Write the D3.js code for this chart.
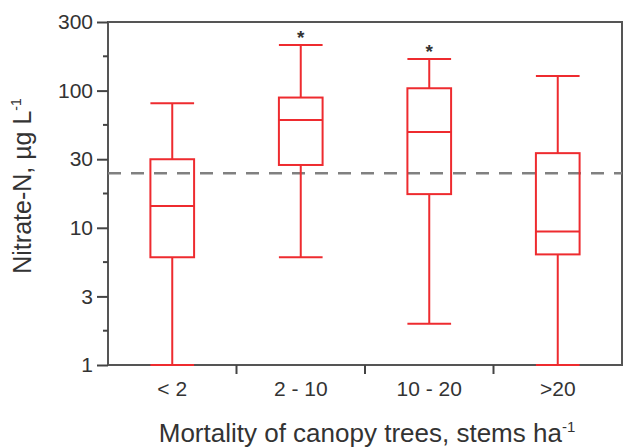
<!DOCTYPE html>
<html>
<head>
<script src="https://d3js.org/d3.v7.min.js"></script>
<style>
body { margin: 0; background: #fff; }
text { font-family: "Liberation Sans", Arial, sans-serif; fill: #333; }
.box { fill: none; stroke: #ee2b2f; stroke-width: 2; }
</style>
</head>
<body>
<div id="chart"></div>
<script>
// values (log axis)
var categories = ["< 2", "2 - 10", "10 - 20", ">20"];
var whiskerLow = [1, 6.1, 2.0, 1];
var q1 = [6.1, 28.7, 17.6, 6.4];
var median = [14.4, 61, 50, 9.4];
var q3 = [31.6, 89, 104, 35];
var whiskerHigh = [81, 215, 170, 128];
var starred = [false, true, true, false];
var threshold = 25;

var tickValues = [1, Math.sqrt(10), 10, 10 * Math.sqrt(10), 100, 100 * Math.sqrt(10)];
var tickLabels = ["1", "3", "10", "30", "100", "300"];

var W = 623, H = 447;
var m = {left: 108, right: 622, top: 22, bottom: 365};

var svg = d3.select("#chart").append("svg")
  .attr("width", W).attr("height", H);

var y = d3.scaleLog()
  .domain([1, 100 * Math.sqrt(10)])
  .range([m.bottom, m.top]);

var x = d3.scaleBand()
  .domain(categories)
  .range([m.left, m.right]);

var bw = x.bandwidth() * 0.34;

// frame
svg.append("rect")
  .attr("x", m.left).attr("y", m.top)
  .attr("width", m.right - m.left).attr("height", m.bottom - m.top)
  .attr("fill", "none").attr("stroke", "#555").attr("stroke-width", 2);

// y axis, major ticks
var yAxis = d3.axisLeft(y)
  .tickValues(tickValues)
  .tickSize(11)
  .tickPadding(4)
  .tickFormat(function(d, i) { return tickLabels[i]; });

var gy = svg.append("g")
  .attr("transform", "translate(" + m.left + ",0)")
  .call(yAxis);
gy.select(".domain").remove();
gy.selectAll("line").attr("stroke", "#444").attr("stroke-width", 2);
gy.selectAll("text").style("font-size", "21px").attr("fill", "#333");

// minor ticks at quarter decades
var minor = [0.25, 0.75, 1.25, 1.75, 2.25].map(function(e) { return Math.pow(10, e); });
svg.selectAll(".minor")
  .data(minor)
  .enter().append("line")
  .attr("x1", m.left - 5).attr("x2", m.left)
  .attr("y1", function(d) { return y(d); })
  .attr("y2", function(d) { return y(d); })
  .attr("stroke", "#444").attr("stroke-width", 2);

// x axis
var gx = svg.append("g")
  .attr("transform", "translate(0," + m.bottom + ")")
  .call(d3.axisBottom(x).tickSize(0).tickPadding(16));
gx.select(".domain").remove();
gx.selectAll("text").style("font-size", "21px").attr("fill", "#333");

// ticks between categories
svg.selectAll(".xsep")
  .data(categories.slice(1))
  .enter().append("line")
  .attr("x1", function(d) { return x(d); })
  .attr("x2", function(d) { return x(d); })
  .attr("y1", m.bottom).attr("y2", m.bottom + 9)
  .attr("stroke", "#444").attr("stroke-width", 2);

// threshold line
svg.append("line")
  .attr("x1", m.left).attr("x2", m.right)
  .attr("y1", y(threshold)).attr("y2", y(threshold))
  .attr("stroke", "#808080").attr("stroke-width", 2.5)
  .attr("stroke-dasharray", "13,10");

// boxes
var g = svg.selectAll(".bx")
  .data(categories)
  .enter().append("g")
  .attr("class", "box");

function cx(i) { return x(categories[i]) + x.bandwidth() / 2; }

g.append("line")
  .attr("x1", function(d, i) { return cx(i); })
  .attr("x2", function(d, i) { return cx(i); })
  .attr("y1", function(d, i) { return y(whiskerHigh[i]); })
  .attr("y2", function(d, i) { return y(q3[i]); });
g.append("line")
  .attr("x1", function(d, i) { return cx(i); })
  .attr("x2", function(d, i) { return cx(i); })
  .attr("y1", function(d, i) { return y(q1[i]); })
  .attr("y2", function(d, i) { return y(whiskerLow[i]); });
g.append("line")
  .attr("x1", function(d, i) { return cx(i) - bw / 2; })
  .attr("x2", function(d, i) { return cx(i) + bw / 2; })
  .attr("y1", function(d, i) { return y(whiskerHigh[i]); })
  .attr("y2", function(d, i) { return y(whiskerHigh[i]); });
g.append("line")
  .attr("x1", function(d, i) { return cx(i) - bw / 2; })
  .attr("x2", function(d, i) { return cx(i) + bw / 2; })
  .attr("y1", function(d, i) { return y(whiskerLow[i]); })
  .attr("y2", function(d, i) { return y(whiskerLow[i]); });
g.append("rect")
  .attr("x", function(d, i) { return cx(i) - bw / 2; })
  .attr("y", function(d, i) { return y(q3[i]); })
  .attr("width", bw)
  .attr("height", function(d, i) { return y(q1[i]) - y(q3[i]); });
g.append("line")
  .attr("x1", function(d, i) { return cx(i) - bw / 2; })
  .attr("x2", function(d, i) { return cx(i) + bw / 2; })
  .attr("y1", function(d, i) { return y(median[i]); })
  .attr("y2", function(d, i) { return y(median[i]); });

// significance stars
svg.selectAll(".star")
  .data(categories.filter(function(d, i) { return starred[i]; }))
  .enter().append("text")
  .attr("x", function(d) { return x(d) + x.bandwidth() / 2; })
  .attr("y", function(d) { return y(whiskerHigh[categories.indexOf(d)]) - 1; })
  .attr("text-anchor", "middle")
  .style("font-size", "19px")
  .style("font-weight", "bold")
  .text("*");

// axis titles
var yt = svg.append("text")
  .attr("transform", "translate(31,186) rotate(-90)")
  .attr("text-anchor", "middle")
  .style("font-size", "25px");
yt.append("tspan").text("Nitrate-N, \u00b5g L");
yt.append("tspan").attr("dy", -10).style("font-size", "14px").text("-1");

var xt = svg.append("text")
  .attr("x", 367).attr("y", 442)
  .attr("text-anchor", "middle")
  .style("font-size", "26px");
xt.append("tspan").text("Mortality of canopy trees, stems ha");
xt.append("tspan").attr("dy", -10).style("font-size", "15px").text("-1");
</script>
</body>
</html>
